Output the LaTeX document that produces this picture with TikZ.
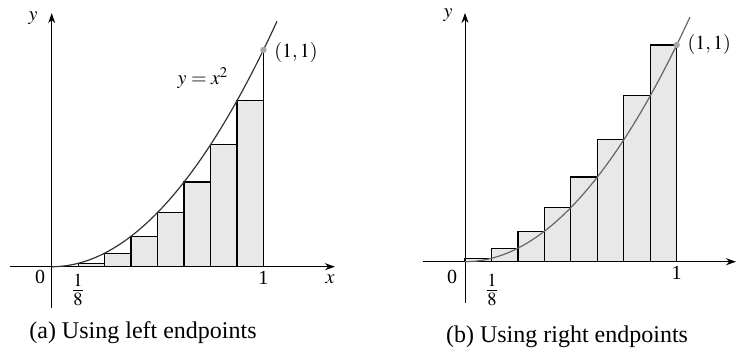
\documentclass[tikz,border=0pt]{standalone}
\usepackage{mathptmx}
\usepackage{fontspec}
\setmainfont{Liberation Serif}
\usetikzlibrary{arrows.meta}

\tikzset{
    axisline/.style={->, line width=0.5pt},
    strip/.style={draw, fill=gray!18, line width=0.6pt},
    parab/.style={line width=0.6pt, black!80},
    endpt/.style={circle, fill=gray!70, inner sep=0pt, minimum size=3.2pt},
    lbl/.style={font=\fontsize{10}{12}\selectfont, inner sep=1pt},
    fraclbl/.style={font=\fontsize{12.5}{14}\selectfont, inner sep=1pt},
    caption/.style={font=\fontsize{12}{14}\selectfont, inner sep=1pt},
    >={Stealth[length=5pt, width=3.5pt]}
}

\begin{document}
\begin{tikzpicture}
    \useasboundingbox (0,0) rectangle (368.5pt,177pt);
    % (a) left endpoints
    \begin{scope}[shift={(25.85pt,43.65pt)}, x=105.85pt, y=108.35pt]
        \foreach \i in {0,...,7}
            \draw[strip] ({\i/8},0) rectangle ({(\i+1)/8},{(\i/8)^2});
        \draw[axisline] (-0.197,0) -- (1.338,0);
        \draw[axisline] (0,-0.19) -- (0,1.17);
        \draw[parab] plot[domain=0:1.065, samples=60] (\x,{\x*\x});
        \draw[line width=0.6pt] (1,0.766) -- (1,1);
        \node[endpt] (ptA) at (1,1) {};
        \node[lbl] (yA) at (-0.088,1.148) {$y$};
        \node[lbl] (zeroA) at (-0.055,-0.048) {0};
        \node[fraclbl] (eighthA) at (0.124,-0.107) {$\frac18$};
        \node[lbl] (oneA) at (1,-0.05) {1};
        \node[lbl] (xA) at (1.315,-0.06) {$x$};
        \node[lbl, anchor=west] (ptlabelA) at (1.04,0.99) {$(1,1)$};
        \node[lbl] (eqA) at (0.715,0.871) {$y=x^2$};
    \end{scope}
    % (b) right endpoints
    \begin{scope}[shift={(232.5pt,46.15pt)}, x=105.85pt, y=108.35pt]
        \foreach \i in {0,...,7}
            \draw[strip] ({\i/8},0) rectangle ({(\i+1)/8},{((\i+1)/8)^2});
        \draw[axisline] (-0.198,0) -- (1.28,0);
        \draw[axisline] (0,-0.19) -- (0,1.148);
        \draw[parab, black!60] plot[domain=0:1.063, samples=60] (\x,{\x*\x});
        \node[endpt] (ptB) at (1,1) {};
        \node[lbl] (yB) at (-0.08,1.138) {$y$};
        \node[lbl] (zeroB) at (-0.061,-0.07) {0};
        \node[fraclbl] (eighthB) at (0.128,-0.13) {$\frac18$};
        \node[lbl] (oneB) at (1,-0.052) {1};
        \node[lbl, anchor=west] (ptlabelB) at (1.04,1.0) {$(1,1)$};
    \end{scope}
    \node[caption] (capA) at (71.5pt,10.5pt) {(a) Using left endpoints};
    \node[caption] (capB) at (283.5pt,8.5pt) {(b) Using right endpoints};
\end{tikzpicture}
\end{document}
